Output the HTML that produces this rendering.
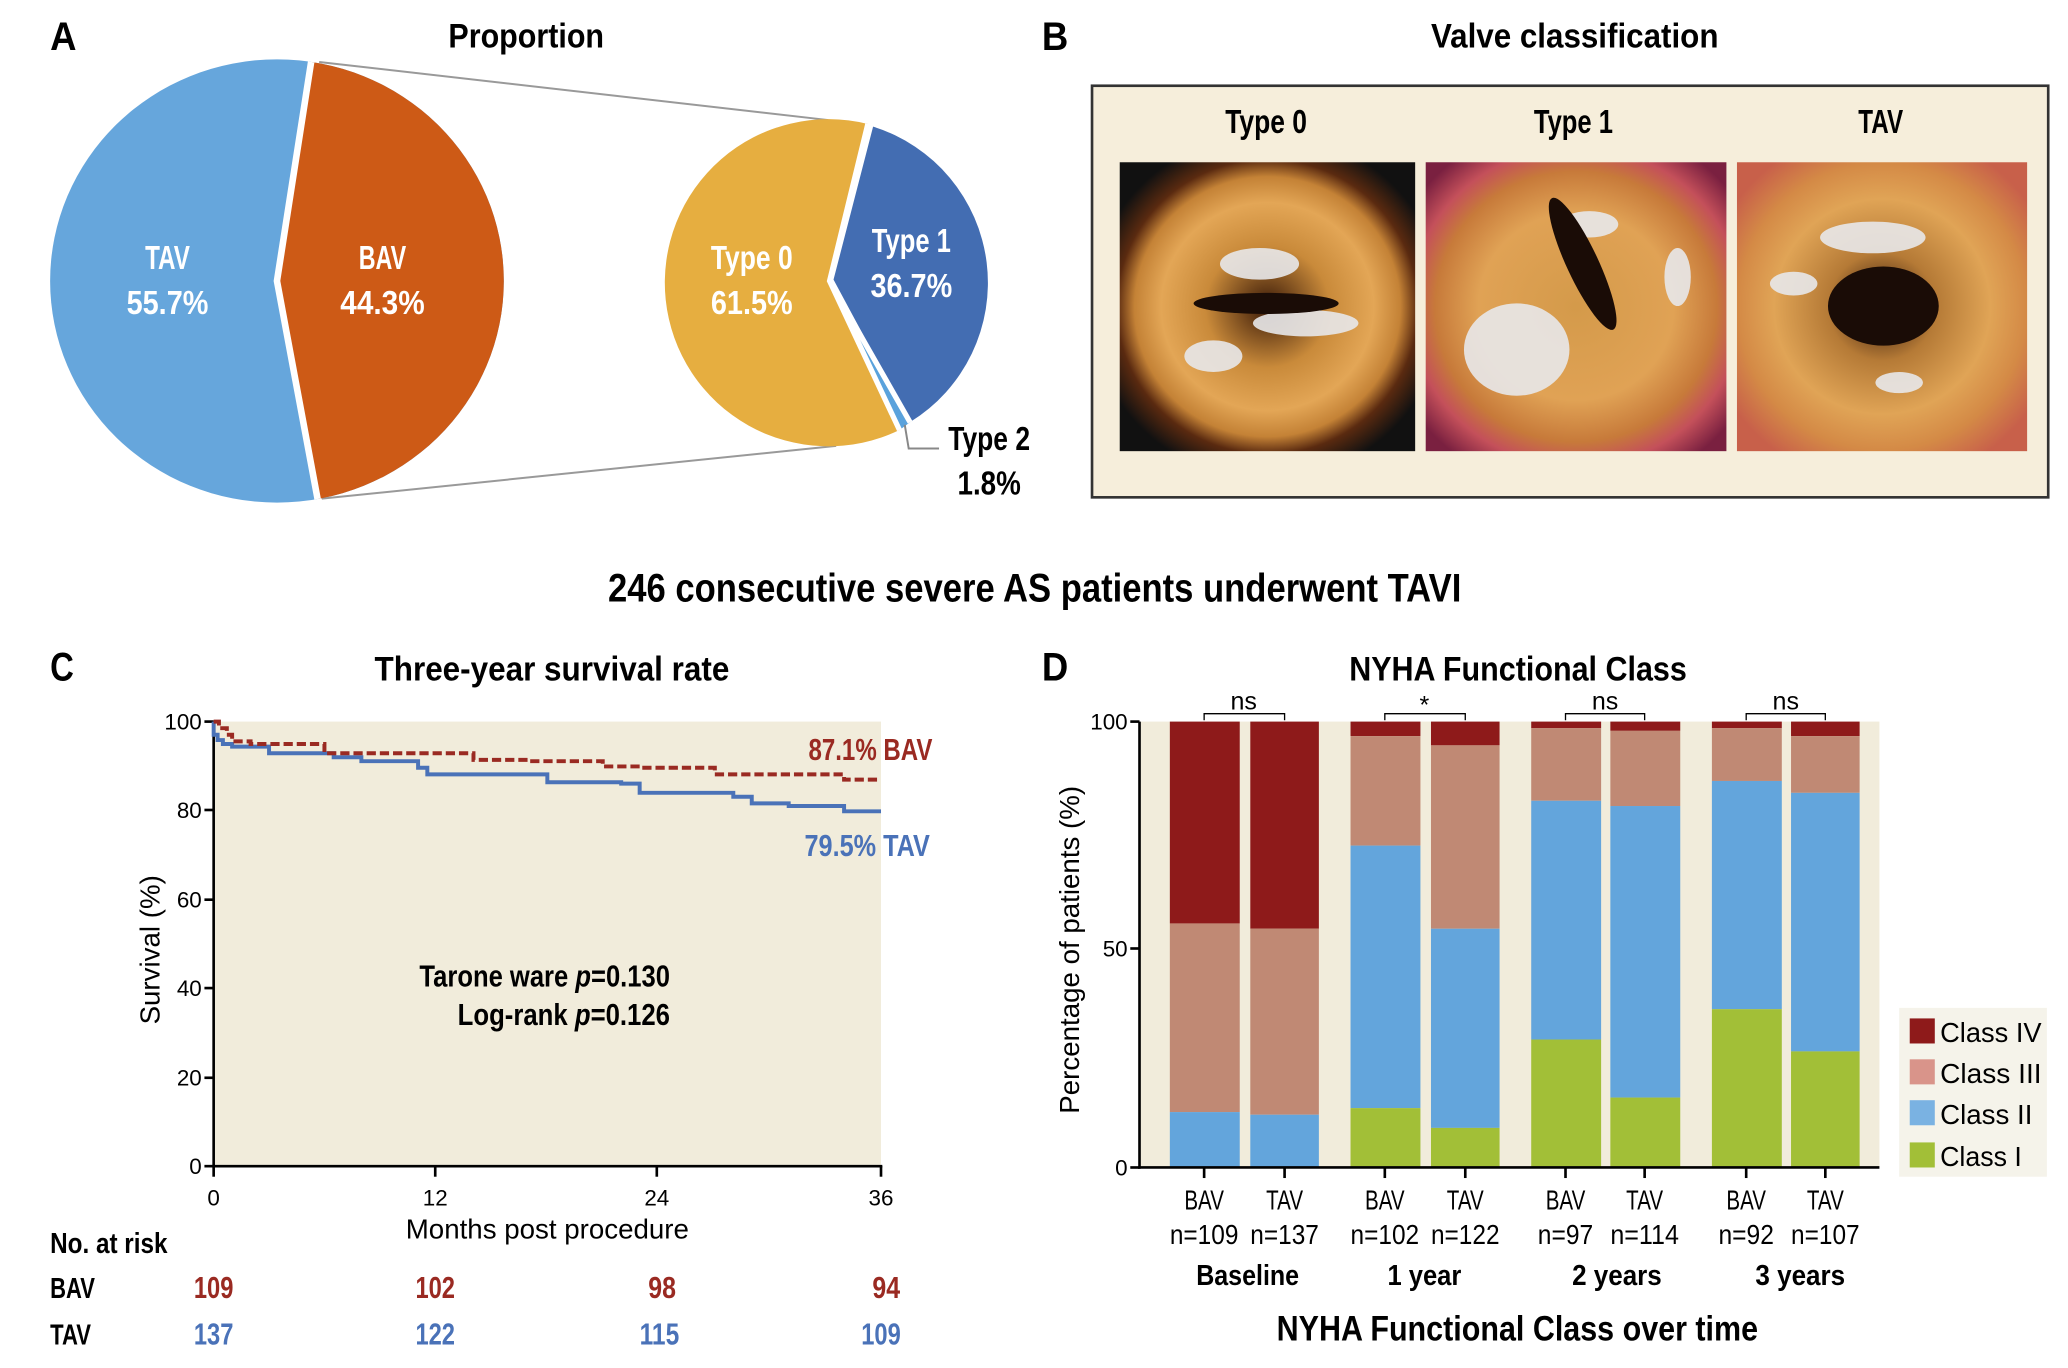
<!DOCTYPE html>
<html><head><meta charset="utf-8"><style>
html,body{margin:0;padding:0;background:#fff;}
svg{display:block;}
text{font-family:"Liberation Sans Narrow","Liberation Sans",sans-serif;}
.b{font-weight:bold;}
</style></head><body>
<svg width="2068" height="1368" viewBox="0 0 1568 1037" preserveAspectRatio="none" xmlns="http://www.w3.org/2000/svg">
<defs>
<radialGradient id="v1" cx="50%" cy="50%" r="60%"><stop offset="0" stop-color="#3a1a08"/><stop offset="0.35" stop-color="#c98a3a"/><stop offset="0.6" stop-color="#e3a656"/><stop offset="0.75" stop-color="#c48236"/><stop offset="0.85" stop-color="#5a2a10"/><stop offset="1" stop-color="#111"/></radialGradient>
<radialGradient id="v2" cx="50%" cy="50%" r="65%"><stop offset="0" stop-color="#d49a4a"/><stop offset="0.5" stop-color="#e0a255"/><stop offset="0.72" stop-color="#c77a3a"/><stop offset="0.85" stop-color="#c4505a"/><stop offset="1" stop-color="#7a2040"/></radialGradient>
<radialGradient id="v3" cx="50%" cy="50%" r="62%"><stop offset="0" stop-color="#2a1208"/><stop offset="0.3" stop-color="#b57a36"/><stop offset="0.6" stop-color="#e0a456"/><stop offset="0.8" stop-color="#d48a46"/><stop offset="1" stop-color="#c8604a"/></radialGradient>
<clipPath id="bigc"><ellipse cx="210" cy="213" rx="172" ry="168"/></clipPath>
</defs>

<!-- Panel A -->
<text x="38" y="38" font-size="30" class="b" textLength="20" lengthAdjust="spacingAndGlyphs">A</text>
<text x="340" y="36" font-size="26" class="b" textLength="118" lengthAdjust="spacingAndGlyphs">Proportion</text>
<line x1="242" y1="47" x2="628" y2="91" stroke="#999" stroke-width="1.5"/>
<line x1="244" y1="378" x2="634" y2="338" stroke="#999" stroke-width="1.5"/>
<g clip-path="url(#bigc)">
<rect x="30" y="40" width="360" height="350" fill="#66a6dc"/>
<path d="M238,40 L210,213 L244,390 L400,390 L400,40 Z" fill="#cd5a16"/>
<path d="M237,40 L210,213 L243,390" fill="none" stroke="#fff" stroke-width="5"/>
</g>
<path d="M658,94 A124,124 0 1 0 682,326 L628,213 Z" fill="#e6ae40"/>
<path d="M662,96 A124,124 0 0 1 690,320 L632,212 Z" fill="#436db2"/>
<path d="M682,326 A124,124 0 0 0 690,320 L630,213 Z" fill="#5aa2dc"/>
<path d="M658,94 L629,213 L682,326 M629,213 L690,320" fill="none" stroke="#fff" stroke-width="4"/>
<polyline points="686,322 689,340 712,340" fill="none" stroke="#888" stroke-width="1.5"/>
<g fill="#fff" font-size="25" text-anchor="middle" font-weight="bold">
<text x="127" y="204" textLength="34" lengthAdjust="spacingAndGlyphs">TAV</text><text x="127" y="238" textLength="62" lengthAdjust="spacingAndGlyphs">55.7%</text>
<text x="290" y="204" textLength="36" lengthAdjust="spacingAndGlyphs">BAV</text><text x="290" y="238" textLength="64" lengthAdjust="spacingAndGlyphs">44.3%</text>
<text x="570" y="204" textLength="62" lengthAdjust="spacingAndGlyphs">Type 0</text><text x="570" y="238" textLength="62" lengthAdjust="spacingAndGlyphs">61.5%</text>
<text x="691" y="191" textLength="60" lengthAdjust="spacingAndGlyphs">Type 1</text><text x="691" y="225" textLength="62" lengthAdjust="spacingAndGlyphs">36.7%</text>
</g>
<text x="750" y="341" font-size="25" font-weight="bold" text-anchor="middle" textLength="62" lengthAdjust="spacingAndGlyphs">Type 2</text>
<text x="750" y="375" font-size="25" font-weight="bold" text-anchor="middle" textLength="48" lengthAdjust="spacingAndGlyphs">1.8%</text>

<!-- Panel B -->
<text x="790" y="38" font-size="30" class="b" textLength="20" lengthAdjust="spacingAndGlyphs">B</text>
<text x="1085" y="36" font-size="26" class="b" textLength="218" lengthAdjust="spacingAndGlyphs">Valve classification</text>
<rect x="828" y="65" width="725" height="312" fill="#f6eedb" stroke="#333" stroke-width="2"/>
<text x="960" y="101" font-size="25" class="b" text-anchor="middle" textLength="62" lengthAdjust="spacingAndGlyphs">Type 0</text>
<text x="1193" y="101" font-size="25" class="b" text-anchor="middle" textLength="60" lengthAdjust="spacingAndGlyphs">Type 1</text>
<text x="1426" y="101" font-size="25" class="b" text-anchor="middle" textLength="34" lengthAdjust="spacingAndGlyphs">TAV</text>
<rect x="849" y="123" width="224" height="219" fill="url(#v1)"/>
<rect x="1081" y="123" width="228" height="219" fill="url(#v2)"/>
<rect x="1317" y="123" width="220" height="219" fill="url(#v3)"/>
<g fill="#e8e8ea" opacity="0.9">
<ellipse cx="955" cy="200" rx="30" ry="12"/><ellipse cx="990" cy="245" rx="40" ry="10"/><ellipse cx="920" cy="270" rx="22" ry="12"/>
<ellipse cx="1150" cy="265" rx="40" ry="35"/><ellipse cx="1205" cy="170" rx="22" ry="10"/><ellipse cx="1272" cy="210" rx="10" ry="22"/>
<ellipse cx="1420" cy="180" rx="40" ry="12"/><ellipse cx="1360" cy="215" rx="18" ry="9"/><ellipse cx="1440" cy="290" rx="18" ry="8"/>
</g>
<g fill="#1a0c06">
<ellipse cx="960" cy="230" rx="55" ry="8"/><ellipse cx="1200" cy="200" rx="12" ry="55" transform="rotate(-25 1200 200)"/><ellipse cx="1428" cy="232" rx="42" ry="30"/>
</g>

<text x="461" y="456" font-size="30" class="b" textLength="647" lengthAdjust="spacingAndGlyphs">246 consecutive severe AS patients underwent TAVI</text>

<!-- Panel C -->
<text x="38" y="516" font-size="30" class="b" textLength="18" lengthAdjust="spacingAndGlyphs">C</text>
<text x="284" y="516" font-size="26" class="b" textLength="269" lengthAdjust="spacingAndGlyphs">Three-year survival rate</text>
<rect x="162" y="547" width="506" height="337" fill="#f1ecdb"/>
<g stroke="#000" stroke-width="2" fill="none">
<line x1="162" y1="547" x2="162" y2="885"/><line x1="161" y1="884" x2="669" y2="884"/>
<line x1="155" y1="547" x2="162" y2="547"/><line x1="155" y1="614" x2="162" y2="614"/><line x1="155" y1="682" x2="162" y2="682"/><line x1="155" y1="749" x2="162" y2="749"/><line x1="155" y1="817" x2="162" y2="817"/><line x1="155" y1="884" x2="162" y2="884"/>
<line x1="162" y1="884" x2="162" y2="892"/><line x1="330" y1="884" x2="330" y2="892"/><line x1="498" y1="884" x2="498" y2="892"/><line x1="668" y1="884" x2="668" y2="892"/>
</g>
<g font-size="17" text-anchor="end">
<text x="153" y="553">100</text><text x="153" y="620">80</text><text x="153" y="688">60</text><text x="153" y="755">40</text><text x="153" y="823">20</text><text x="153" y="890">0</text>
</g>
<g font-size="17" text-anchor="middle">
<text x="162" y="914">0</text><text x="330" y="914">12</text><text x="498" y="914">24</text><text x="668" y="914">36</text>
</g>
<text x="415" y="939" font-size="21" text-anchor="middle" font-family="Liberation Sans">Months post procedure</text>
<text transform="translate(121,720) rotate(-90)" font-size="21" text-anchor="middle" font-family="Liberation Sans">Survival (%)</text>
<path d="M162,547 V557 H165 V561 H169 V564 H176 V566 H204 V571 H253 V574 H274 V577 H317 V582 H324 V587 H331 H415 V593 H471 V594 H485 V601 H556 V604 H570 V609 H598 V611 H640 V615 H668" fill="none" stroke="#4a72b8" stroke-width="3"/>
<path d="M162,547 H166 V552 H172 V557 H176 V562 H190 V564 H246 V571 H359 V576 H401 V577 H457 V581 H485 V582 H542 V587 H640 V591 H668" fill="none" stroke="#9a2a22" stroke-width="3" stroke-dasharray="7,3"/>
<text x="613" y="576" font-size="23" font-weight="bold" fill="#9a2a22" textLength="94" lengthAdjust="spacingAndGlyphs">87.1% BAV</text>
<text x="610" y="649" font-size="23" font-weight="bold" fill="#4a72b8" textLength="95" lengthAdjust="spacingAndGlyphs">79.5% TAV</text>
<text x="318" y="748" font-size="23" font-weight="bold" textLength="190" lengthAdjust="spacingAndGlyphs">Tarone ware <tspan font-style="italic">p</tspan>=0.130</text>
<text x="347" y="777" font-size="23" font-weight="bold" textLength="161" lengthAdjust="spacingAndGlyphs">Log-rank <tspan font-style="italic">p</tspan>=0.126</text>
<text x="38" y="950" font-size="22" class="b" textLength="89" lengthAdjust="spacingAndGlyphs">No. at risk</text>
<text x="38" y="984" font-size="22" class="b" textLength="34" lengthAdjust="spacingAndGlyphs">BAV</text>
<text x="38" y="1019" font-size="22" class="b" textLength="31" lengthAdjust="spacingAndGlyphs">TAV</text>
<g font-size="23" text-anchor="middle" fill="#9a2a22" font-weight="bold">
<text x="162" y="984" textLength="30" lengthAdjust="spacingAndGlyphs">109</text><text x="330" y="984" textLength="30" lengthAdjust="spacingAndGlyphs">102</text><text x="502" y="984" textLength="21" lengthAdjust="spacingAndGlyphs">98</text><text x="672" y="984" textLength="21" lengthAdjust="spacingAndGlyphs">94</text>
</g>
<g font-size="23" text-anchor="middle" fill="#4a72b8" font-weight="bold">
<text x="162" y="1019" textLength="30" lengthAdjust="spacingAndGlyphs">137</text><text x="330" y="1019" textLength="30" lengthAdjust="spacingAndGlyphs">122</text><text x="500" y="1019" textLength="30" lengthAdjust="spacingAndGlyphs">115</text><text x="668" y="1019" textLength="30" lengthAdjust="spacingAndGlyphs">109</text>
</g>

<!-- Panel D -->
<text x="790" y="516" font-size="30" class="b" textLength="20" lengthAdjust="spacingAndGlyphs">D</text>
<text x="1023" y="516" font-size="26" class="b" textLength="256" lengthAdjust="spacingAndGlyphs">NYHA Functional Class</text>
<rect x="864" y="547" width="561" height="338" fill="#f1ecdb"/>
<g>
<rect x="887" y="547" width="53" height="153" fill="#8e1a1a"/><rect x="887" y="700" width="53" height="143" fill="#c08974"/><rect x="887" y="843" width="53" height="42" fill="#63a5dc"/>
<rect x="948" y="547" width="52" height="157" fill="#8e1a1a"/><rect x="948" y="704" width="52" height="141" fill="#c08974"/><rect x="948" y="845" width="52" height="40" fill="#63a5dc"/>
<rect x="1024" y="547" width="53" height="11" fill="#8e1a1a"/><rect x="1024" y="558" width="53" height="83" fill="#c08974"/><rect x="1024" y="641" width="53" height="199" fill="#63a5dc"/><rect x="1024" y="840" width="53" height="45" fill="#a2bf37"/>
<rect x="1085" y="547" width="52" height="18" fill="#8e1a1a"/><rect x="1085" y="565" width="52" height="139" fill="#c08974"/><rect x="1085" y="704" width="52" height="151" fill="#63a5dc"/><rect x="1085" y="855" width="52" height="30" fill="#a2bf37"/>
<rect x="1161" y="547" width="53" height="5" fill="#8e1a1a"/><rect x="1161" y="552" width="53" height="55" fill="#c08974"/><rect x="1161" y="607" width="53" height="181" fill="#63a5dc"/><rect x="1161" y="788" width="53" height="97" fill="#a2bf37"/>
<rect x="1221" y="547" width="53" height="7" fill="#8e1a1a"/><rect x="1221" y="554" width="53" height="57" fill="#c08974"/><rect x="1221" y="611" width="53" height="221" fill="#63a5dc"/><rect x="1221" y="832" width="53" height="53" fill="#a2bf37"/>
<rect x="1298" y="547" width="53" height="5" fill="#8e1a1a"/><rect x="1298" y="552" width="53" height="40" fill="#c08974"/><rect x="1298" y="592" width="53" height="173" fill="#63a5dc"/><rect x="1298" y="765" width="53" height="120" fill="#a2bf37"/>
<rect x="1358" y="547" width="52" height="11" fill="#8e1a1a"/><rect x="1358" y="558" width="52" height="43" fill="#c08974"/><rect x="1358" y="601" width="52" height="196" fill="#63a5dc"/><rect x="1358" y="797" width="52" height="88" fill="#a2bf37"/>
</g>
<g stroke="#000" stroke-width="2" fill="none">
<line x1="864" y1="547" x2="864" y2="886"/><line x1="863" y1="885" x2="1425" y2="885"/>
<line x1="857" y1="547" x2="864" y2="547"/><line x1="857" y1="719" x2="864" y2="719"/><line x1="857" y1="885" x2="864" y2="885"/>
<line x1="913" y1="885" x2="913" y2="893"/><line x1="974" y1="885" x2="974" y2="893"/><line x1="1050" y1="885" x2="1050" y2="893"/><line x1="1111" y1="885" x2="1111" y2="893"/><line x1="1187" y1="885" x2="1187" y2="893"/><line x1="1247" y1="885" x2="1247" y2="893"/><line x1="1324" y1="885" x2="1324" y2="893"/><line x1="1384" y1="885" x2="1384" y2="893"/>
</g>
<g stroke="#000" stroke-width="1" fill="none">
<polyline points="913,546 913,541 974,541 974,546"/><polyline points="1050,546 1050,541 1111,541 1111,546"/><polyline points="1187,546 1187,541 1247,541 1247,546"/><polyline points="1324,546 1324,541 1384,541 1384,546"/>
</g>
<g font-size="19" text-anchor="middle">
<text x="943" y="538">ns</text><text x="1080" y="541">*</text><text x="1217" y="538">ns</text><text x="1354" y="538">ns</text>
</g>
<g font-size="17" text-anchor="end">
<text x="855" y="553">100</text><text x="855" y="725">50</text><text x="855" y="891">0</text>
</g>
<text transform="translate(818,720) rotate(-90)" font-size="21" text-anchor="middle" font-family="Liberation Sans">Percentage of patients (%)</text>
<g font-size="21" text-anchor="middle">
<text x="913" y="917" textLength="30" lengthAdjust="spacingAndGlyphs">BAV</text><text x="974" y="917" textLength="28" lengthAdjust="spacingAndGlyphs">TAV</text><text x="1050" y="917" textLength="30" lengthAdjust="spacingAndGlyphs">BAV</text><text x="1111" y="917" textLength="28" lengthAdjust="spacingAndGlyphs">TAV</text><text x="1187" y="917" textLength="30" lengthAdjust="spacingAndGlyphs">BAV</text><text x="1247" y="917" textLength="28" lengthAdjust="spacingAndGlyphs">TAV</text><text x="1324" y="917" textLength="30" lengthAdjust="spacingAndGlyphs">BAV</text><text x="1384" y="917" textLength="28" lengthAdjust="spacingAndGlyphs">TAV</text>
<text x="913" y="943" textLength="52" lengthAdjust="spacingAndGlyphs">n=109</text><text x="974" y="943" textLength="52" lengthAdjust="spacingAndGlyphs">n=137</text><text x="1050" y="943" textLength="52" lengthAdjust="spacingAndGlyphs">n=102</text><text x="1111" y="943" textLength="52" lengthAdjust="spacingAndGlyphs">n=122</text><text x="1187" y="943" textLength="42" lengthAdjust="spacingAndGlyphs">n=97</text><text x="1247" y="943" textLength="52" lengthAdjust="spacingAndGlyphs">n=114</text><text x="1324" y="943" textLength="42" lengthAdjust="spacingAndGlyphs">n=92</text><text x="1384" y="943" textLength="52" lengthAdjust="spacingAndGlyphs">n=107</text>
</g>
<g font-size="22" class="b" text-anchor="middle">
<text x="946" y="974" textLength="78" lengthAdjust="spacingAndGlyphs">Baseline</text><text x="1080" y="974" textLength="56" lengthAdjust="spacingAndGlyphs">1 year</text><text x="1226" y="974" textLength="68" lengthAdjust="spacingAndGlyphs">2 years</text><text x="1365" y="974" textLength="68" lengthAdjust="spacingAndGlyphs">3 years</text>
</g>
<text x="968" y="1016" font-size="27" class="b" textLength="365" lengthAdjust="spacingAndGlyphs">NYHA Functional Class over time</text>
<rect x="1440" y="764" width="112" height="128" fill="#f5f3ea"/>
<rect x="1448" y="772" width="19" height="19" fill="#8e1a1a"/>
<rect x="1448" y="803" width="19" height="19" fill="#d9948a"/>
<rect x="1448" y="834" width="19" height="19" fill="#7ab2e2"/>
<rect x="1448" y="866" width="19" height="19" fill="#a2bf37"/>
<g font-size="21" font-family="Liberation Sans">
<text x="1471" y="790" textLength="77" lengthAdjust="spacingAndGlyphs">Class IV</text><text x="1471" y="821" textLength="77" lengthAdjust="spacingAndGlyphs">Class III</text><text x="1471" y="852" textLength="70" lengthAdjust="spacingAndGlyphs">Class II</text><text x="1471" y="884" textLength="62" lengthAdjust="spacingAndGlyphs">Class I</text>
</g>
</svg>
</body></html>
